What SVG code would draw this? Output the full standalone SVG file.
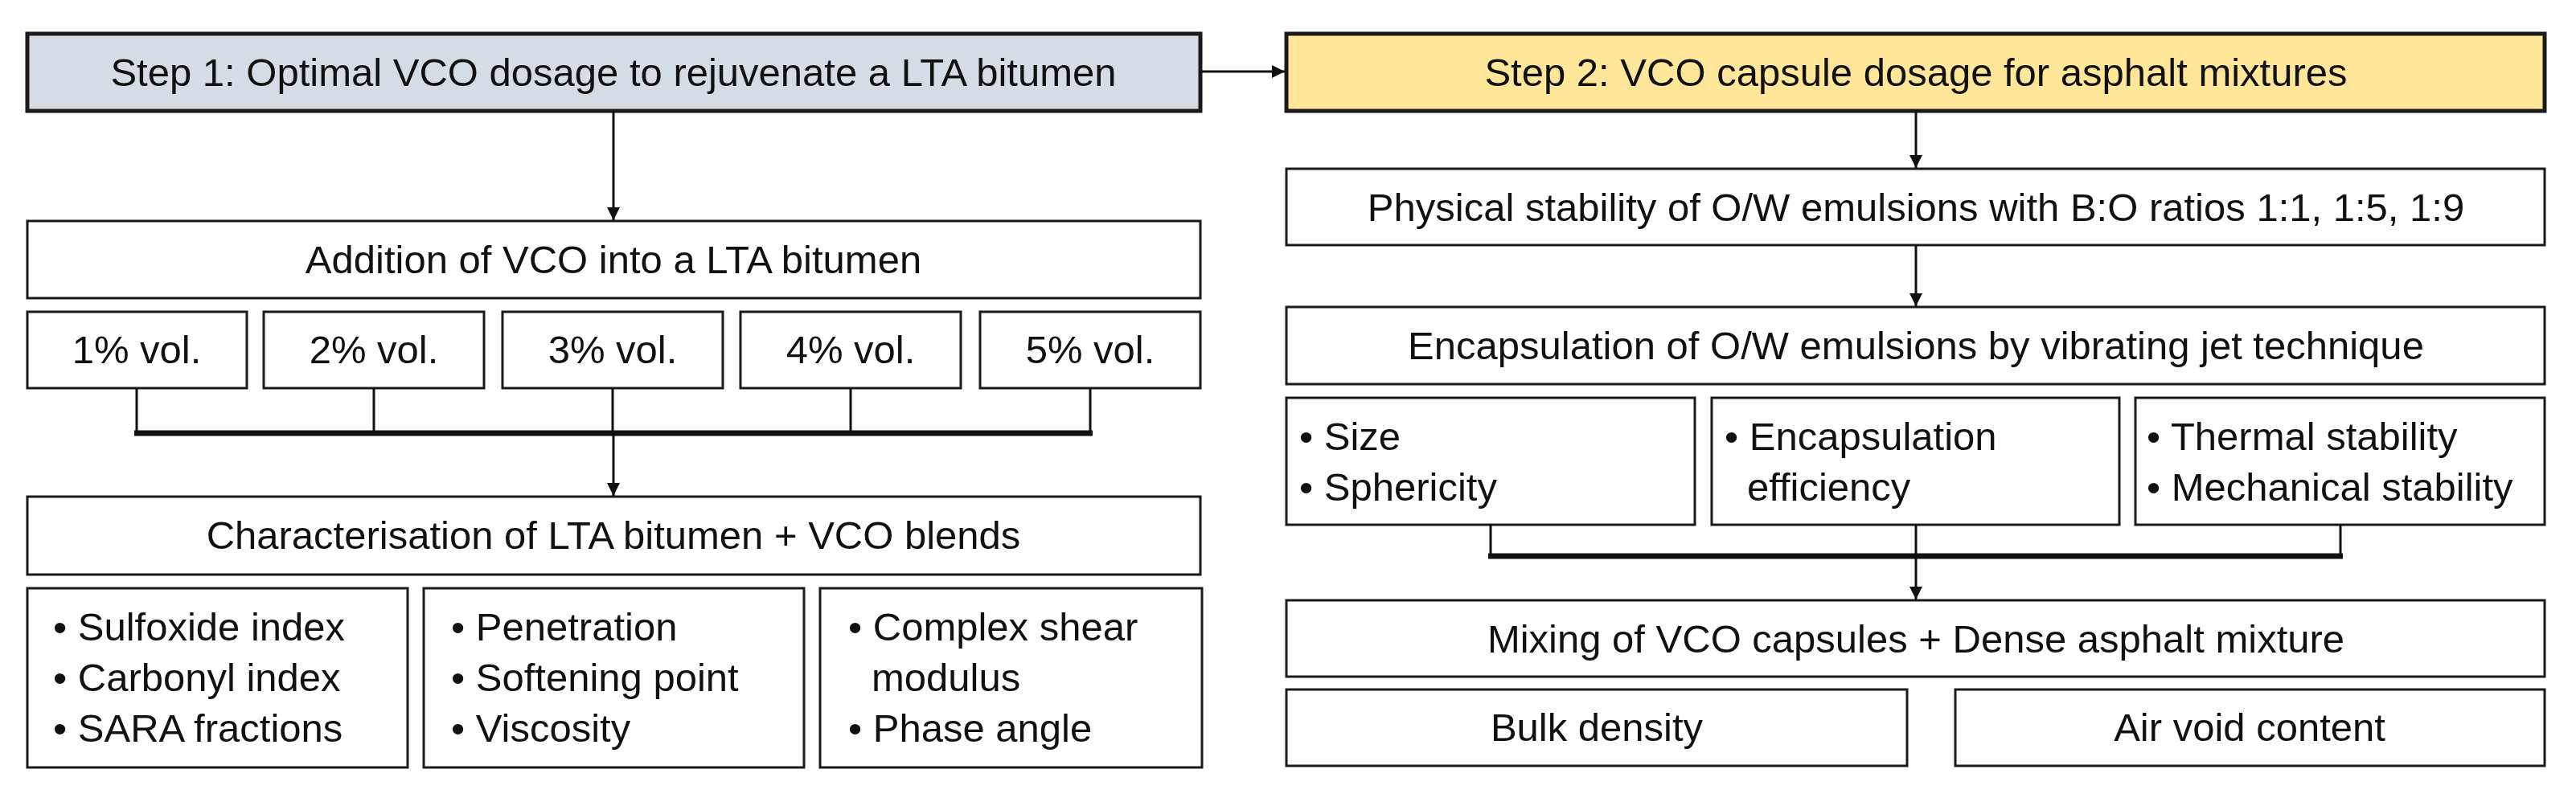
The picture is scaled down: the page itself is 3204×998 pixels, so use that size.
<svg xmlns="http://www.w3.org/2000/svg" width="3204" height="998" viewBox="0 0 3204 998">
<style>
.b{fill:#fff;stroke:#1a1a1a;stroke-width:3}
.h{stroke:#1a1a1a;stroke-width:5}
text{font-family:"Liberation Sans",Arial,sans-serif;font-size:49px;fill:#111}
.c{text-anchor:middle}
.l{fill:none;stroke:#111;stroke-width:3}
.bar{fill:none;stroke:#111;stroke-width:7}
</style>
<defs><marker id="a" markerWidth="10" markerHeight="10" refX="9" refY="5" orient="auto" markerUnits="userSpaceOnUse" viewBox="0 0 10 10"><path d="M0,0L10,5L0,10z" fill="#111" transform="scale(1)"/></marker>
<marker id="A" viewBox="0 0 10 10" refX="10" refY="5" markerWidth="24" markerHeight="16" orient="auto" markerUnits="userSpaceOnUse"><path d="M0,0L10,5L0,10z" fill="#111"/></marker></defs>
<g id="step1"><rect class="h" x="34" y="42" width="1459" height="96" fill="#d6dce4"/><text class="c" x="763" y="107">Step 1: Optimal VCO dosage to rejuvenate a LTA bitumen</text></g>
<g id="step2"><rect class="h" x="1600" y="42" width="1565" height="96" fill="#ffe699"/><text class="c" x="2383" y="107">Step 2: VCO capsule dosage for asphalt mixtures</text></g>
<g id="addition"><rect class="b" x="34" y="275" width="1459" height="96"/><text class="c" x="763" y="340">Addition of VCO into a LTA bitumen</text></g>
<g id="p1"><rect class="b" x="34" y="388" width="273" height="95"/><text class="c" x="170" y="452">1% vol.</text></g>
<g id="p2"><rect class="b" x="328" y="388" width="274" height="95"/><text class="c" x="465" y="452">2% vol.</text></g>
<g id="p3"><rect class="b" x="625" y="388" width="274" height="95"/><text class="c" x="762" y="452">3% vol.</text></g>
<g id="p4"><rect class="b" x="921" y="388" width="274" height="95"/><text class="c" x="1058" y="452">4% vol.</text></g>
<g id="p5"><rect class="b" x="1219" y="388" width="274" height="95"/><text class="c" x="1356" y="452">5% vol.</text></g>
<g id="charac"><rect class="b" x="34" y="618" width="1459" height="97"/><text class="c" x="763" y="683">Characterisation of LTA bitumen + VCO blends</text></g>
<g id="chem"><rect class="b" x="34" y="732" width="473" height="223"/><text x="66" y="797">• Sulfoxide index</text><text x="66" y="860">• Carbonyl index</text><text x="66" y="923">• SARA fractions</text></g>
<g id="phys"><rect class="b" x="527" y="732" width="473" height="223"/><text x="561" y="797">• Penetration</text><text x="561" y="860">• Softening point</text><text x="561" y="923">• Viscosity</text></g>
<g id="rheo"><rect class="b" x="1020" y="732" width="475" height="223"/><text x="1055" y="797">• Complex shear</text><text x="1084" y="860">modulus</text><text x="1055" y="923">• Phase angle</text></g>
<g id="stab"><rect class="b" x="1600" y="210" width="1565" height="95"/><text class="c" x="2383" y="275">Physical stability of O/W emulsions with B:O ratios 1:1, 1:5, 1:9</text></g>
<g id="encap"><rect class="b" x="1600" y="382" width="1565" height="96"/><text class="c" x="2383" y="447">Encapsulation of O/W emulsions by vibrating jet technique</text></g>
<g id="size"><rect class="b" x="1600" y="495" width="508" height="158"/><text x="1616" y="560">• Size</text><text x="1616" y="623">• Sphericity</text></g>
<g id="eff"><rect class="b" x="2129" y="495" width="507" height="158"/><text x="2145" y="560">• Encapsulation</text><text x="2173" y="623">efficiency</text></g>
<g id="thermal"><rect class="b" x="2656" y="495" width="509" height="158"/><text x="2670" y="560">• Thermal stability</text><text x="2670" y="623">• Mechanical stability</text></g>
<g id="mixing"><rect class="b" x="1600" y="747" width="1565" height="95"/><text class="c" x="2383" y="812">Mixing of VCO capsules + Dense asphalt mixture</text></g>
<g id="bulk"><rect class="b" x="1600" y="858" width="772" height="95"/><text class="c" x="1986" y="922">Bulk density</text></g>
<g id="air"><rect class="b" x="2432" y="858" width="733" height="95"/><text class="c" x="2798" y="922">Air void content</text></g>
<g id="connectors">
<line class="l" x1="1493" y1="89" x2="1598" y2="89" stroke-width="5" marker-end="url(#A)"/>
<line class="l" x1="763" y1="138" x2="763" y2="274" marker-end="url(#A)"/>
<path class="l" d="M170,483V539M465,483V539M762,483V539M1058,483V539M1356,483V539"/>
<path class="bar" d="M167,539H1359"/>
<line class="l" x1="763" y1="539" x2="763" y2="617" marker-end="url(#A)"/>
<line class="l" x1="2383" y1="138" x2="2383" y2="209" marker-end="url(#A)"/>
<line class="l" x1="2383" y1="305" x2="2383" y2="381" marker-end="url(#A)"/>
<path class="l" d="M1854,653V692M2383,653V692M2911,653V692"/>
<path class="bar" d="M1851,692H2914"/>
<line class="l" x1="2383" y1="692" x2="2383" y2="746" marker-end="url(#A)"/>
</g>
</svg>
